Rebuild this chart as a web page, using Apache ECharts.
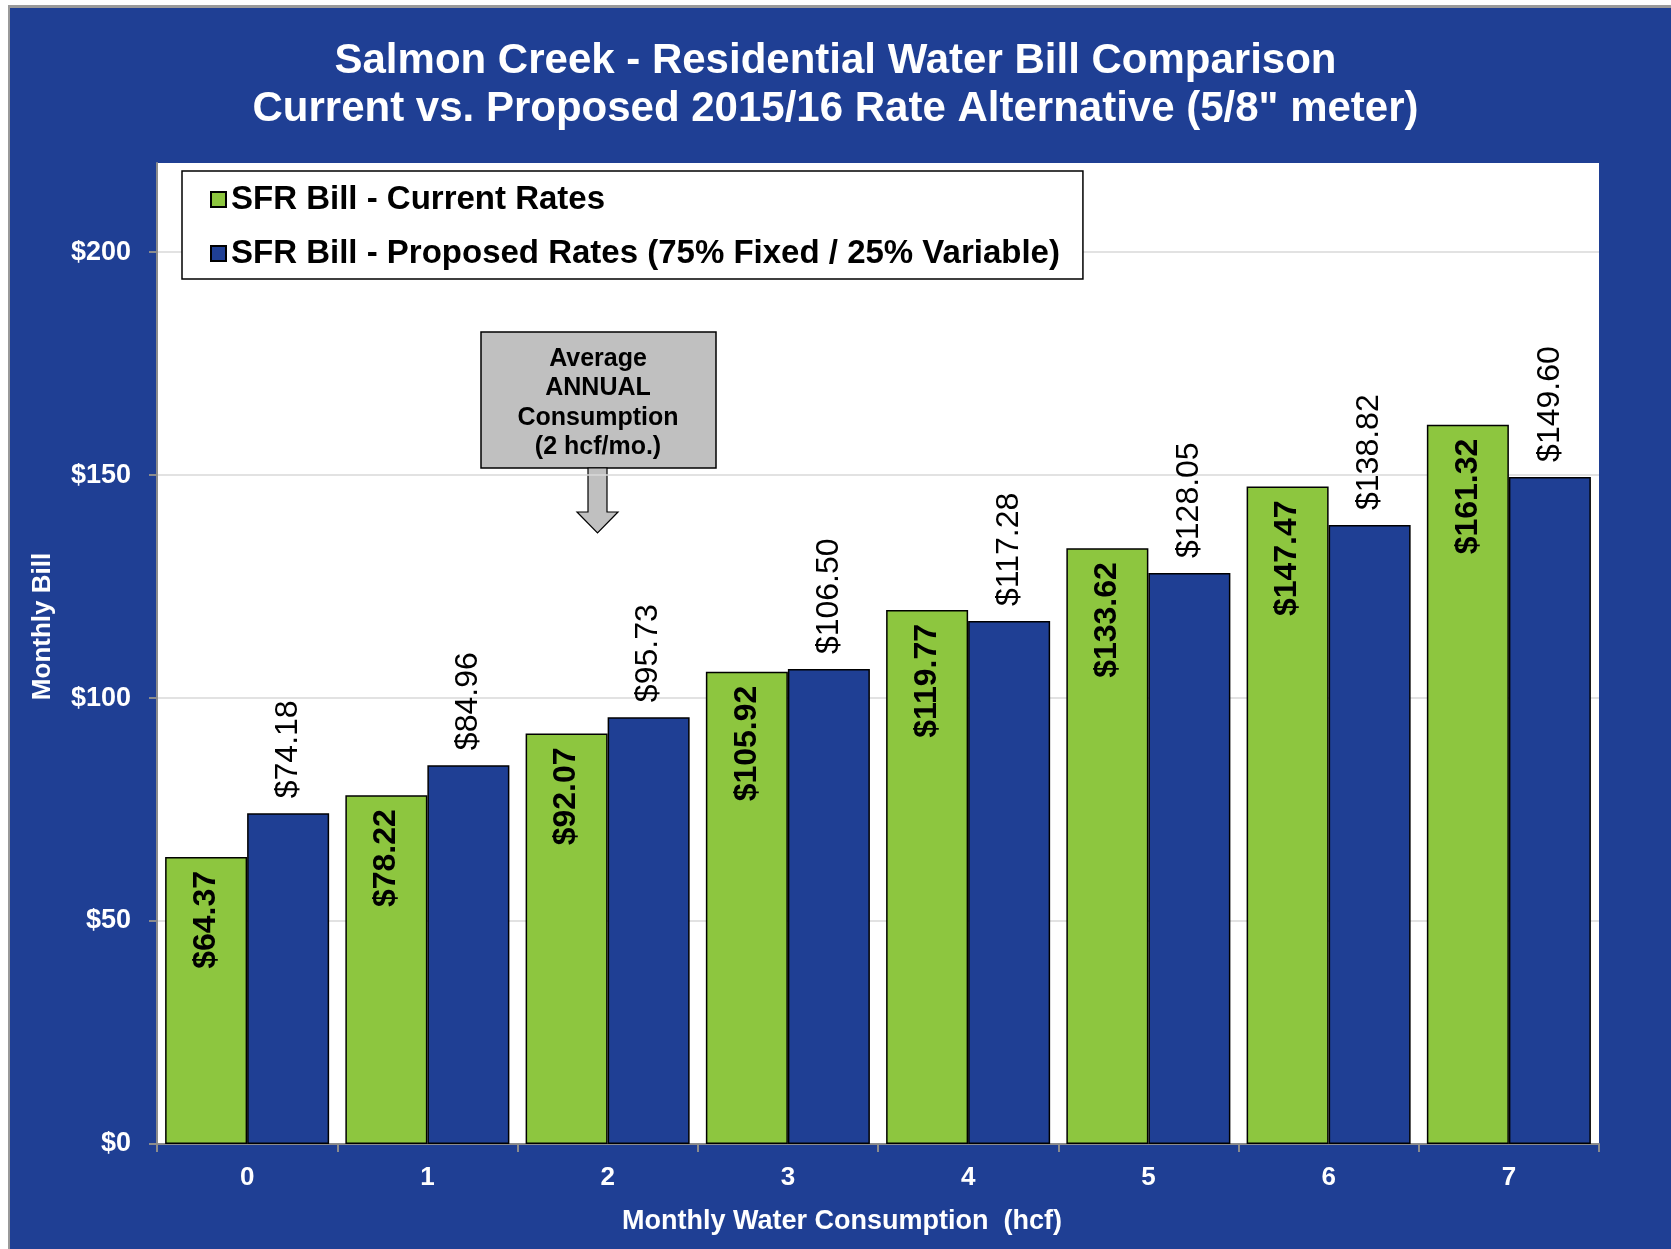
<!DOCTYPE html>
<html>
<head>
<meta charset="utf-8">
<script src="https://cdn.jsdelivr.net/npm/echarts@6/dist/echarts.min.js"></script>
<style>
	html, body { margin: 0; padding: 0; background: #ffffff; }
	#chart { position: absolute; left: 0; top: 0; width: 1671px; height: 1249px; }
</style>
</head>
<body>
<div id="chart"></div>
<script>
	var categories = ['0', '1', '2', '3', '4', '5', '6', '7'];
	var currentRates = [64.37, 78.22, 92.07, 105.92, 119.77, 133.62, 147.47, 161.32];
	var proposedRates = [74.18, 84.96, 95.73, 106.50, 117.28, 128.05, 138.82, 149.60];
	var yTicks = [0, 50, 100, 150, 200];

	var colors = {
		panel: '#1f3f94',
		green: '#8dc63f',
		blue: '#1f3f94',
		grid: '#d9d9d9',
		axis: '#8c8c8c',
		callout: '#c0c0c0'
	};
	var fontFamily = '"Liberation Sans", Arial, sans-serif';

	function money(v) {
		return '$' + v.toFixed(2);
	}

	var chart = echarts.init(document.getElementById('chart'));

	var option = {
		backgroundColor: colors.panel,
		animation: false,
		textStyle: { fontFamily: fontFamily },
		title: {
			text: 'Salmon Creek - Residential Water Bill Comparison\nCurrent vs. Proposed 2015/16 Rate Alternative (5/8" meter)',
			left: 'center',
			top: 37,
			padding: [0, 0, 0, 28],
			textStyle: {
				color: '#ffffff',
				fontSize: 42,
				fontWeight: 'bold',
				lineHeight: 48,
				fontFamily: fontFamily
			}
		},
		legend: {
			orient: 'vertical',
			left: 182,
			top: 171,
			padding: [12, 23, 9, 28],
			itemGap: 21,
			itemWidth: 15,
			itemHeight: 15,
			icon: 'rect',
			backgroundColor: '#ffffff',
			borderColor: '#000000',
			borderWidth: 1.5,
			textStyle: {
				color: '#000000',
				fontSize: 33,
				fontWeight: 'bold',
				fontFamily: fontFamily
			},
			data: ['SFR Bill - Current Rates', 'SFR Bill - Proposed Rates (75% Fixed / 25% Variable)']
		},
		grid: {
			left: 157,
			right: 72,
			top: 163,
			bottom: 105,
			show: true,
			backgroundColor: '#ffffff',
			borderWidth: 0
		},
		xAxis: {
			type: 'category',
			data: categories,
			name: 'Monthly Water Consumption  (hcf)',
			nameLocation: 'middle',
			nameGap: 64,
			nameTextStyle: {
				color: '#ffffff',
				fontSize: 27,
				fontWeight: 'bold',
				padding: [0, 72, 0, 0]
			},
			axisLine: { lineStyle: { color: colors.axis, width: 2 } },
			axisTick: { show: true, length: 8, lineStyle: { color: colors.axis, width: 2 } },
			axisLabel: {
				color: '#ffffff',
				fontSize: 26,
				fontWeight: 'bold',
				margin: 21
			}
		},
		yAxis: {
			type: 'value',
			min: 0,
			max: 220,
			interval: 50,
			name: 'Monthly Bill',
			nameLocation: 'middle',
			nameGap: 101,
			nameTextStyle: {
				color: '#ffffff',
				fontSize: 26,
				fontWeight: 'bold',
				padding: [0, 0, 0, 54]
			},
			axisLine: { show: true, lineStyle: { color: colors.axis, width: 2 } },
			axisTick: { show: true, length: 8, lineStyle: { color: colors.axis, width: 2 } },
			splitLine: {
				show: true,
				showMaxLine: false,
				lineStyle: { color: colors.grid, width: 1.5 }
			},
			axisLabel: {
				color: '#ffffff',
				fontSize: 27,
				fontWeight: 'bold',
				margin: 26,
				showMaxLabel: false,
				formatter: function (v) {
					return yTicks.indexOf(v) >= 0 ? '$' + v : '';
				}
			}
		},
		series: [
			{
				name: 'SFR Bill - Current Rates',
				type: 'bar',
				data: currentRates,
				barGap: '0%',
				barCategoryGap: '9%',
				itemStyle: { color: colors.green, borderColor: '#000000', borderWidth: 1.5 },
				label: {
					show: true,
					position: 'insideTop',
					rotate: 90,
					align: 'right',
					verticalAlign: 'middle',
					distance: 14,
					color: '#000000',
					fontSize: 32,
					fontWeight: 'bold',
					formatter: function (p) { return money(p.value); }
				}
			},
			{
				name: 'SFR Bill - Proposed Rates (75% Fixed / 25% Variable)',
				type: 'bar',
				data: proposedRates,
				barGap: '0%',
				barCategoryGap: '9%',
				itemStyle: { color: colors.blue, borderColor: '#000000', borderWidth: 1.5 },
				label: {
					show: true,
					position: 'top',
					rotate: 90,
					align: 'left',
					verticalAlign: 'middle',
					distance: 15,
					color: '#000000',
					fontSize: 32,
					fontWeight: 'normal',
					formatter: function (p) { return money(p.value); }
				}
			}
		],
		graphic: [
			// page edge above / left of the blue panel
			{ type: 'rect', shape: { x: 0, y: 0, width: 1671, height: 5 }, style: { fill: '#ffffff' } },
			{ type: 'rect', shape: { x: 0, y: 5, width: 1671, height: 3 }, style: { fill: '#9a9a9a' } },
			{ type: 'rect', shape: { x: 0, y: 0, width: 8, height: 1249 }, style: { fill: '#ffffff' } },
			{ type: 'rect', shape: { x: 8, y: 5, width: 2, height: 1244 }, style: { fill: '#9a9a9a' } },
			// callout box
			{
				type: 'group',
				z: 100,
				children: [
					{
						type: 'rect',
						shape: { x: 481, y: 332, width: 235, height: 136 },
						style: { fill: colors.callout, stroke: '#000000', lineWidth: 1.5 }
					},
					{
						type: 'text',
						style: {
							x: 598,
							y: 403,
							text: 'Average\nANNUAL\nConsumption\n(2 hcf/mo.)',
							align: 'center',
							verticalAlign: 'middle',
							lineHeight: 29.5,
							font: 'bold 25px ' + fontFamily,
							fill: '#000000'
						}
					},
					{
						type: 'polygon',
						shape: {
							points: [[588, 468], [607, 468], [607, 512], [618, 512], [597.5, 533], [577, 512], [588, 512]]
						},
						style: { fill: colors.callout, stroke: '#000000', lineWidth: 1.2 }
					}
				]
			}
		]
	};

	chart.setOption(option);
</script>
</body>
</html>
